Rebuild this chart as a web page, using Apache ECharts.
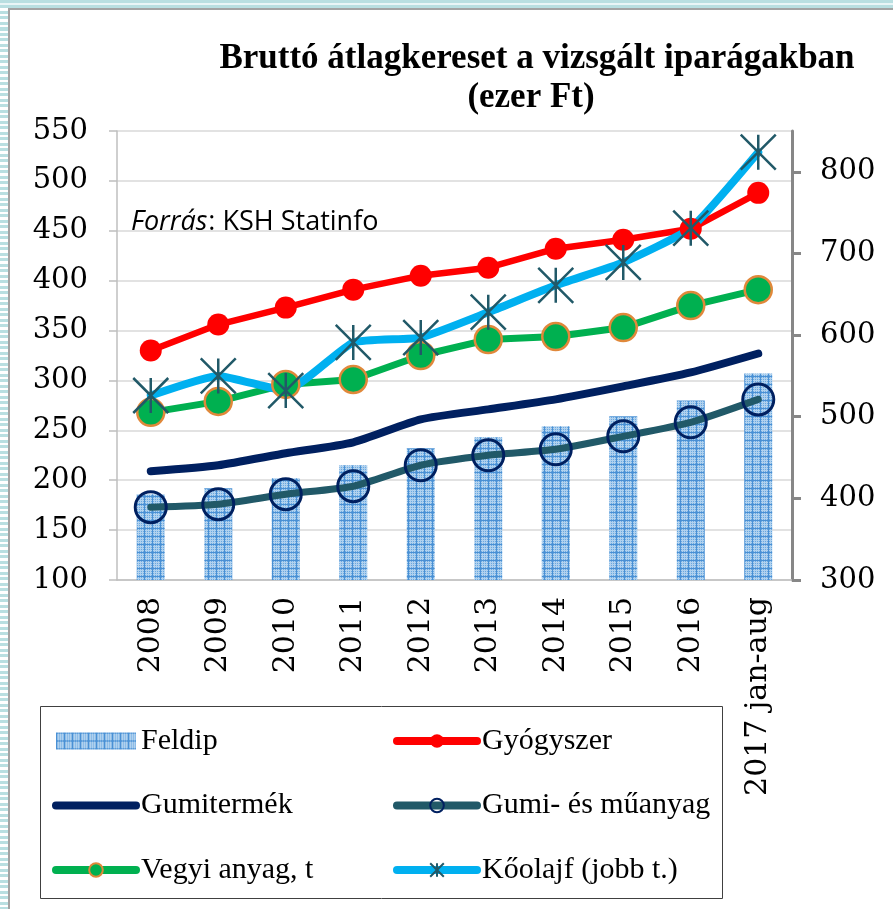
<!DOCTYPE html>
<html>
<head>
<meta charset="utf-8">
<script src="https://cdn.jsdelivr.net/npm/echarts@6/dist/echarts.min.js"></script>
<style>
  body { margin: 0; background: #fff; }
  #wrap { position: relative; width: 893px; height: 909px; overflow: hidden; background: #fff; }
  #chart { position: absolute; left: 0; top: 0; width: 893px; height: 909px; }
  .strip-left { position: absolute; left: 0; top: 0; width: 8px; height: 909px;
    background: repeating-linear-gradient(to bottom, #b9dfe1 0, #b9dfe1 3px, #fff 3px, #fff 5.5px); }
  .strip-top { position: absolute; left: 0; top: 0; width: 893px; height: 8px;
    background: linear-gradient(to bottom, #b9dfe1 0, #b9dfe1 3px, #e9f5f6 3px, #e9f5f6 5px, #b9dfe1 5px); }
  .edge-left { position: absolute; left: 8px; top: 8px; width: 2px; height: 901px; background: #a3a3a3; }
  .edge-top { position: absolute; left: 8px; top: 8px; width: 885px; height: 2px; background: #a3a3a3; }
</style>
</head>
<body>
<div id="wrap">
  <div id="chart"></div>
  <div class="strip-left"></div>
  <div class="strip-top"></div>
  <div class="edge-left"></div>
  <div class="edge-top"></div>
</div>
<script>
  // adatok (ezer Ft)
  var years = ['2008', '2009', '2010', '2011', '2012', '2013', '2014', '2015', '2016', '2017 jan-aug'];
  var feldip = [186, 192, 202, 215, 232, 243, 254, 264, 280, 307];
  var gyogyszer = [330, 356, 373, 391, 405, 413, 432, 441, 452, 488];
  var gumitermek = [209, 215, 227, 238, 261, 271, 281, 294, 308, 327];
  var gumiMuanyag = [173, 176, 186, 194, 215, 225, 231, 244, 258, 281];
  var vegyi = [268, 279, 296, 301, 325, 341, 344, 353, 375, 391];
  var koolaj = [526, 550, 532, 591, 597, 628, 661, 689, 731, 824];   // jobb tengely
  var rightTicks = [300, 400, 500, 600, 700, 800];

  var axisFont = 'DejaVu Serif';
  var serif = 'Liberation Serif';

  // pontozott kék mintázat az oszlopokhoz
  function makePattern() {
    var c = document.createElement('canvas');
    c.width = 8;
    c.height = 8;
    var ctx = c.getContext('2d');
    ctx.fillStyle = '#b0d1ee';
    ctx.fillRect(0, 0, 8, 8);
    ctx.fillStyle = '#6aa8e0';
    for (var x = 1; x < 8; x += 2) {
      for (var y = 1; y < 8; y += 2) {
        ctx.fillRect(x, y, 1, 1);
      }
    }
    ctx.fillStyle = '#4a90d4';
    ctx.fillRect(0, 0, 8, 1);
    ctx.fillRect(0, 0, 1, 8);
    return c;
  }

  // "Forrás" szélessége, hogy a kettőspont közvetlenül utána jöjjön
  var srcFontItalic = 'italic 27px "Open Sans"';
  var mctx = document.createElement('canvas').getContext('2d');
  mctx.font = srcFontItalic;
  var forrasW = mctx.measureText('Forrás').width;

  var myChart = echarts.init(document.getElementById('chart'));
  var legendText = {
    fontFamily: serif,
    fontSize: 30,
    lineHeight: 30,
    color: '#000'
  };

  var option = {
    animation: false,
    backgroundColor: 'transparent',
    graphic: [
      {
        type: 'text', x: 537, y: 59,
        style: { text: 'Bruttó átlagkereset a vizsgált iparágakban', font: 'bold 35px "Liberation Serif"',
          fill: '#000', textAlign: 'center', textVerticalAlign: 'middle' }
      },
      {
        type: 'text', x: 531, y: 98,
        style: { text: '(ezer Ft)', font: 'bold 35px "Liberation Serif"',
          fill: '#000', textAlign: 'center', textVerticalAlign: 'middle' }
      },
      {
        type: 'text', x: 131, y: 222, z: 10,
        style: { text: 'Forrás', font: srcFontItalic, fill: '#000', textVerticalAlign: 'middle' }
      },
      {
        type: 'text', x: 131 + forrasW + 1, y: 222, z: 10,
        style: { text: ': KSH Statinfo', font: '27px "Open Sans"', fill: '#000', textVerticalAlign: 'middle' }
      },
      {
        type: 'rect', shape: { x: 40.5, y: 706.5, width: 682, height: 192 },
        style: { fill: 'none', stroke: '#404040', lineWidth: 1 }
      }
    ],
    legend: [
      {
        orient: 'vertical', left: 52, top: 726, padding: 0, itemWidth: 80, itemHeight: 17, itemGap: 34.5,
        textStyle: legendText, lineStyle: { width: 8 },
        data: [
          { name: 'Feldip', icon: 'rect' },
          { name: 'Gumitermék', itemStyle: { opacity: 0 } },
          'Vegyi anyag, t'
        ]
      },
      {
        orient: 'vertical', left: 393, top: 726, padding: 0, itemWidth: 80, itemHeight: 17, itemGap: 34.5,
        textStyle: legendText, lineStyle: { width: 8 },
        data: ['Gyógyszer', 'Gumi- és műanyag', 'Kőolajf (jobb t.)']
      }
    ],
    grid: { left: 117, right: 101, top: 131, bottom: 329 },
    xAxis: {
      type: 'category',
      data: years,
      axisLine: { lineStyle: { color: '#bfbfbf', width: 1.5 } },
      axisTick: { interval: 0, length: 8, lineStyle: { color: '#bfbfbf', width: 1.5 } },
      axisLabel: { interval: 0, rotate: 90, margin: 17, fontFamily: axisFont, fontSize: 30, color: '#000' }
    },
    yAxis: [
      {
        type: 'value', min: 100, max: 550, interval: 50,
        axisLine: { show: true, lineStyle: { color: '#bfbfbf', width: 1.5 } },
        axisTick: { show: true, length: 8, lineStyle: { color: '#bfbfbf', width: 1.5 } },
        axisLabel: { margin: 29, fontFamily: axisFont, fontSize: 29, color: '#000' },
        splitLine: { lineStyle: { color: '#d9d9d9', width: 1.5 } }
      },
      {
        type: 'value', position: 'right', min: 300, max: 850, interval: 100,
        axisLine: { show: true, lineStyle: { color: '#878787', width: 3 } },
        axisTick: { show: true, length: 9, customValues: rightTicks, lineStyle: { color: '#878787', width: 3 } },
        axisLabel: { margin: 28, customValues: rightTicks,
          fontFamily: axisFont, fontSize: 29, color: '#000' },
        splitLine: { show: false }
      }
    ],
    series: [
      {
        name: 'Feldip', type: 'bar', data: feldip, barWidth: 28, z: 1,
        itemStyle: { color: { image: makePattern(), repeat: 'repeat' } }
      },
      {
        name: 'Gyógyszer', type: 'line', data: gyogyszer,
        symbol: 'circle', symbolSize: 22,
        lineStyle: { color: '#ff0000', width: 6.5, cap: 'round' },
        itemStyle: { color: '#ff0000' }
      },
      {
        name: 'Gumitermék', type: 'line', data: gumitermek, smooth: 0.2,
        symbol: 'none',
        lineStyle: { color: '#002060', width: 8, cap: 'round' },
        itemStyle: { color: '#002060' }
      },
      {
        name: 'Gumi- és műanyag', type: 'line', data: gumiMuanyag, smooth: 0.2,
        symbol: 'circle', symbolSize: 31,
        lineStyle: { color: '#215968', width: 7, cap: 'round' },
        itemStyle: { color: 'rgba(0,0,0,0)', borderColor: '#002060', borderWidth: 3 }
      },
      {
        name: 'Vegyi anyag, t', type: 'line', data: vegyi,
        symbol: 'circle', symbolSize: 27,
        lineStyle: { color: '#00b050', width: 7, cap: 'round' },
        itemStyle: { color: '#00b050', borderColor: '#e0883a', borderWidth: 2.5 }
      },
      {
        name: 'Kőolajf (jobb t.)', type: 'line', data: koolaj, yAxisIndex: 1, smooth: 0.15,
        symbol: 'path://M0,0L10,10M10,0L0,10M5,0L5,10', symbolSize: 35,
        lineStyle: { color: '#00b0f0', width: 8, cap: 'round' },
        itemStyle: { color: 'rgba(0,0,0,0)', borderColor: '#215968', borderWidth: 2.5 }
      }
    ]
  };

  myChart.setOption(option);
</script>
</body>
</html>
